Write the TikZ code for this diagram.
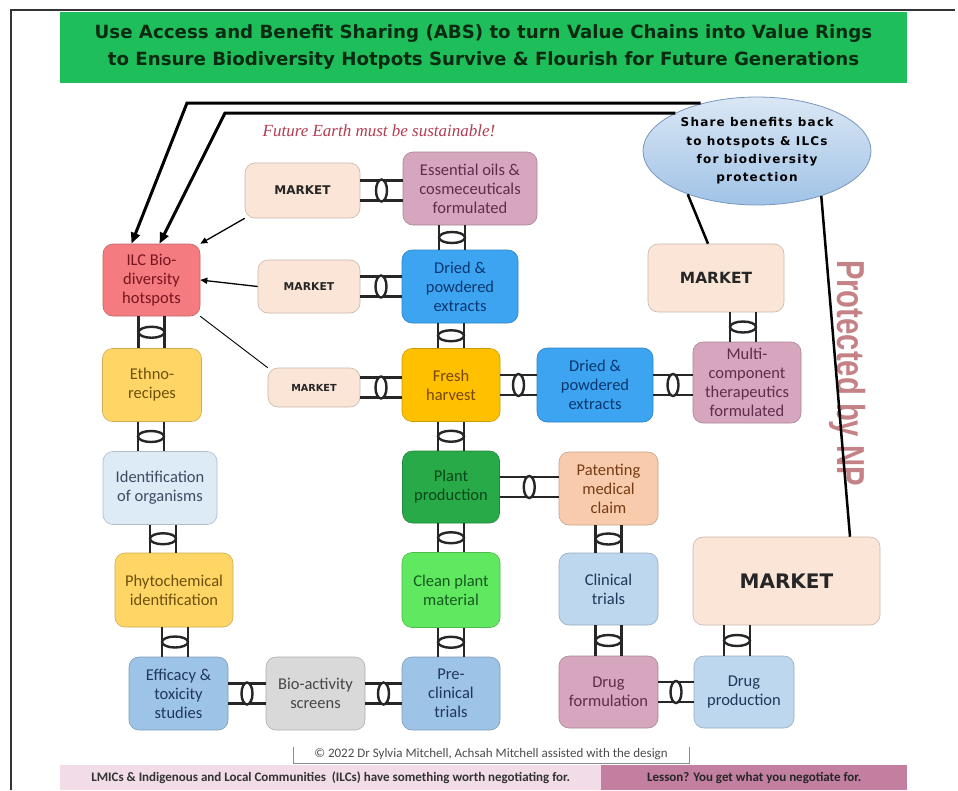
\documentclass[tikz,border=0pt]{standalone}
\usepackage{fontspec}
\setmainfont{Carlito}
\newfontfamily\headfont{DejaVu Sans}
\newfontfamily\sharefont[LetterSpace=10]{DejaVu Sans}
\newfontfamily\npfont{Liberation Sans}
\newfontfamily\earthfont{Liberation Serif}
\usetikzlibrary{shapes.geometric,calc,arrows.meta}

\definecolor{titlegreen}{RGB}{30,190,90}
\definecolor{titletext}{RGB}{10,42,18}
\definecolor{ilcred}{RGB}{244,124,128}
\definecolor{ilctext}{RGB}{120,20,30}
\definecolor{yellowfill}{RGB}{255,214,102}
\definecolor{yeltext}{RGB}{110,80,10}
\definecolor{palefill}{RGB}{221,235,247}
\definecolor{paletext}{RGB}{60,75,95}
\definecolor{bluefill}{RGB}{157,195,230}
\definecolor{bluetext}{RGB}{30,55,90}
\definecolor{greyfill}{RGB}{217,217,217}
\definecolor{greytext}{RGB}{70,70,70}
\definecolor{limefill}{RGB}{96,232,96}
\definecolor{limetext}{RGB}{20,90,30}
\definecolor{greenfill}{RGB}{40,170,72}
\definecolor{greentext}{RGB}{10,70,25}
\definecolor{orangefill}{RGB}{255,192,0}
\definecolor{orangetext}{RGB}{120,70,0}
\definecolor{skyfill}{RGB}{60,164,240}
\definecolor{skytext}{RGB}{10,55,110}
\definecolor{mauvefill}{RGB}{213,166,189}
\definecolor{mauvetext}{RGB}{95,45,75}
\definecolor{peachfill}{RGB}{251,229,214}
\definecolor{patentfill}{RGB}{248,203,173}
\definecolor{patenttext}{RGB}{120,60,20}
\definecolor{lightblue}{RGB}{189,215,238}
\definecolor{nppink}{RGB}{196,130,134}
\definecolor{earthred}{RGB}{178,60,80}
\definecolor{lmicspink}{RGB}{242,220,231}
\definecolor{lessonmauve}{RGB}{194,127,160}

\tikzset{
  box/.style={rounded corners=10pt, align=center, inner sep=2pt, draw=#1!80!black,
    fill=#1, line width=0.6pt, font=\fontsize{16.5}{19}\selectfont},
  mk/.style={box=peachfill, text=black!85, font=\headfont\bfseries\fontsize{#1}{#1}\selectfont},
  chain/.style={line width=2.6pt, black!85},
  ring/.style={line width=2.4pt, black!85, fill=white},
  backarrow/.style={line width=3pt, -{Triangle[length=11pt,width=9pt]}},
  mkarrow/.style={line width=1.3pt, -{Triangle[length=7pt,width=6pt]}},
  sharewire/.style={line width=2.5pt},
  footer/.style={font=\bfseries\fontsize{13}{13}\selectfont, anchor=north west,
    minimum height=25pt, inner sep=0pt},
}

% chain link between two boxes side by side
\newcommand{\hlink}[2]{%
  \draw[chain] ($(#1.east)+(0pt,10pt)$) -- ($(#1.east -| #2.west)+(0pt,10pt)$)
               ($(#1.east)+(0pt,-10pt)$) -- ($(#1.east -| #2.west)+(0pt,-10pt)$);
  \draw[ring] ($(#1.east)!.5!(#1.east -| #2.west)$) ellipse [x radius=5.5pt, y radius=11pt];
}
% chain link between two stacked boxes, #3 = x offset
\newcommand{\vlink}[3]{%
  \coordinate (lt) at ($(#1.south)+(#3pt,0pt)$);
  \coordinate (lb) at (lt |- #2.north);
  \draw[chain] ($(lt)+(-13pt,0pt)$) -- ($(lb)+(-13pt,0pt)$)
               ($(lt)+(13pt,0pt)$) -- ($(lb)+(13pt,0pt)$);
  \draw[ring] ($(lt)!.5!(lb)$) ellipse [x radius=13pt, y radius=5.5pt];
}

\begin{document}
\begin{tikzpicture}[x=1pt, y=-1pt]

\useasboundingbox (0,0) rectangle (958,790);
\fill[white] (0,0) rectangle (958,790);
\draw[line width=1.5pt, black!80] (11,790) -- (11,10) -- (955,10);

% title
\node[fill=titlegreen, minimum width=847pt, minimum height=71pt, text=titletext, align=center,
  font=\headfont\bfseries\fontsize{18.2}{27}\selectfont] (title) at (483.5,47.5)
  {Use Access and Benefit Sharing (ABS) to turn Value Chains into Value Rings\\
   to Ensure Biodiversity Hotpots Survive \& Flourish for Future Generations};

\node[text=earthred, font=\earthfont\itshape\fontsize{17}{17}\selectfont] (earth) at (379,131)
  {Future Earth must be sustainable!};

% left ring
\node[box=ilcred, text=ilctext, minimum width=97pt, minimum height=72pt] (ilc) at (151.5,280) {ILC Bio-\\diversity\\hotspots};
\node[box=yellowfill, text=yeltext, minimum width=99pt, minimum height=73pt] (ethno) at (152,385) {Ethno-\\recipes};
\node[box=palefill, text=paletext, minimum width=114pt, minimum height=73pt] (ident) at (160,488) {Identification\\of organisms};
\node[box=yellowfill, text=yeltext, minimum width=118pt, minimum height=74pt] (phyto) at (174,590) {Phytochemical\\identification};
\node[box=bluefill, text=bluetext, minimum width=99pt, minimum height=73pt] (efficacy) at (178.5,693.5) {Efficacy \&\\toxicity\\studies};
\node[box=greyfill, text=greytext, minimum width=99pt, minimum height=73pt] (bioscreen) at (315.5,693.5) {Bio-activity\\screens};

% middle column
\node[box=bluefill, text=bluetext, minimum width=98pt, minimum height=73pt] (preclin) at (451,693.5) {Pre-\\clinical\\trials};
\node[box=limefill, text=limetext, minimum width=98pt, minimum height=75pt] (clean) at (451,590) {Clean plant\\material};
\node[box=greenfill, text=greentext, minimum width=97pt, minimum height=72pt] (plant) at (451,487) {Plant\\production};
\node[box=orangefill, text=orangetext, minimum width=98pt, minimum height=73pt] (fresh) at (451,385) {Fresh\\harvest};
\node[box=skyfill, text=skytext, minimum width=116pt, minimum height=73pt] (driedmid) at (460,286.5) {Dried \&\\powdered\\extracts};
\node[box=mauvefill, text=mauvetext, minimum width=134pt, minimum height=73pt] (essoil) at (470,188.5) {Essential oils \&\\cosmeceuticals\\formulated};

\node[mk=12, minimum width=115pt, minimum height=55pt] (mkone) at (302.5,190.5) {MARKET};
\node[mk=10.8, minimum width=102pt, minimum height=53pt] (mktwo) at (309,286.5) {MARKET};
\node[mk=9.7, minimum width=92pt, minimum height=39pt] (mkthree) at (314,387.5) {MARKET};

% right side
\node[box=skyfill, text=skytext, minimum width=116pt, minimum height=74pt] (driedright) at (595,385) {Dried \&\\powdered\\extracts};
\node[box=mauvefill, text=mauvetext, minimum width=108pt, minimum height=81pt] (multi) at (747,382.5) {Multi-\\component\\therapeutics\\formulated};
\node[mk=15.4, minimum width=136pt, minimum height=68pt] (mkright) at (716,278) {MARKET};
\node[box=patentfill, text=patenttext, minimum width=99pt, minimum height=73pt] (patent) at (608.5,488.5) {Patenting\\medical\\claim};
\node[box=lightblue, text=bluetext, minimum width=99pt, minimum height=72pt] (clinical) at (608.5,589) {Clinical\\trials};
\node[box=mauvefill, text=mauvetext, minimum width=99pt, minimum height=72pt] (drugform) at (608.5,692) {Drug\\formulation};
\node[box=lightblue, text=bluetext, minimum width=100pt, minimum height=72pt] (drugprod) at (744,692) {Drug\\production};
\node[mk=20, minimum width=187pt, minimum height=88pt] (mkbig) at (786.5,581) {MARKET};

\node[ellipse, minimum width=228pt, minimum height=108pt, inner sep=0pt, draw={rgb,255:red,120;green,150;blue,190},
  line width=0.8pt, top color={rgb,255:red,218;green,231;blue,245}, bottom color={rgb,255:red,160;green,195;blue,230},
  align=center, font=\sharefont\bfseries\fontsize{12}{18.3}\selectfont] (share) at (757,151)
  {Share benefits back\\to hotspots \& ILCs\\for biodiversity\\protection};

\node[rotate=-90, text=nppink, font=\npfont\bfseries\fontsize{39}{39}\selectfont] (np) at (848,373)
  {\scalebox{0.75}[1]{Protected by NP}};

% chain links
\vlink{ilc}{ethno}{0}
\vlink{ethno}{ident}{-1}
\vlink{ident}{phyto}{3}
\vlink{phyto}{efficacy}{1}
\hlink{efficacy}{bioscreen}
\hlink{bioscreen}{preclin}
\vlink{clean}{preclin}{0}
\vlink{plant}{clean}{0}
\vlink{fresh}{plant}{0}
\vlink{driedmid}{fresh}{-9}
\vlink{essoil}{driedmid}{-18}
\hlink{mkone}{essoil}
\hlink{mktwo}{driedmid}
\hlink{mkthree}{fresh}
\hlink{fresh}{driedright}
\hlink{driedright}{multi}
\vlink{mkright}{multi}{27}
\hlink{plant}{patent}
\vlink{patent}{clinical}{0}
\vlink{clinical}{drugform}{0}
\hlink{drugform}{drugprod}
\vlink{mkbig}{drugprod}{-49.5}

% benefits flowing back
\coordinate (outer) at (187,103);
\coordinate (inner) at (225,113);
\draw[backarrow] (share.140 |- outer) -- (outer) -- ([xshift=-20pt]ilc.north);
\draw[backarrow] (share.155 |- inner) -- (inner) -- ([xshift=8pt]ilc.north);
\draw[sharewire] (share.212) -- ([xshift=-8pt]mkright.north);
\draw[sharewire] (share.325) -- ([xshift=63.5pt]mkbig.north);

\draw[mkarrow] (mkone.south west) -- (ilc.north east);
\draw[mkarrow] (mktwo.west) -- (ilc.east);
\draw[line width=0.9pt] (mkthree.north west) -- (ilc.south east);

% footer
\draw[black!45, line width=0.8pt] (293,747) -- (293,763) -- (689,763) -- (689,747);
\node[text=black!70, font=\fontsize{13}{13}\selectfont] (copy) at (491,754)
  {\textcopyright{} 2022 Dr Sylvia Mitchell, Achsah Mitchell assisted with the design};
\node[footer, fill=lmicspink, minimum width=541pt, text=black!80] (lmics) at (60,765)
  {LMICs \& Indigenous and Local Communities\ \ (ILCs) have something worth negotiating for.};
\node[footer, fill=lessonmauve, minimum width=306pt, text=black!85] (lesson) at (601,765)
  {Lesson? You get what you negotiate for.};

\end{tikzpicture}
\end{document}
